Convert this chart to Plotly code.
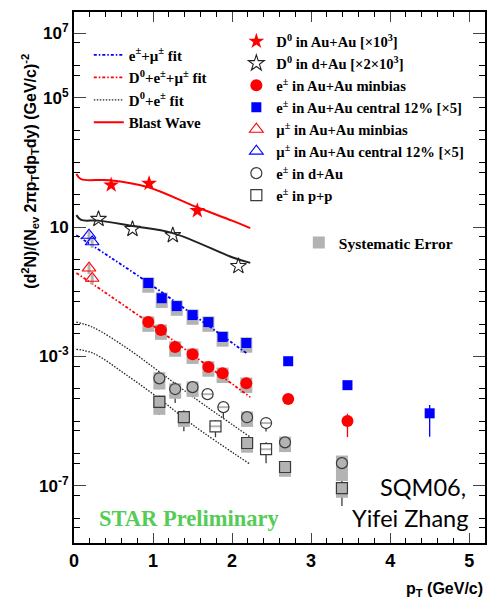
import plotly.graph_objects as go

# ---------------- data ----------------
# D0 in Au+Au (x10^3) and D0 in d+Au (x2x10^3)
d0_auau_pt = [0.47, 0.95, 1.56]
d0_auau_y = [200, 224, 32]
d0_dau_pt = [0.31, 0.74, 1.25, 2.08]
d0_dau_y = [17.8, 8.7, 5.6, 0.62]

# non-photonic electrons, Au+Au minbias
e_mb_pt = [0.94, 1.10, 1.28, 1.50, 1.70, 1.88, 2.18, 2.71, 3.46]
e_mb_y = [0.0115, 0.0065, 0.00195, 0.00117, 4.7e-4, 3.0e-4, 1.48e-4, 4.8e-5, 1.0e-5]
e_mb_stat = [0.1, 0.1, 0.1, 0.1, 0.1, 0.1, 0.1, 0.15, 0.68]
e_mb_sys = [0.5, 0.5, 0.5, 0.5, 0.5, 0.5, 0.5, 0.0, 0.0]

# electrons, Au+Au central 12% (x5)
e_c_pt = [0.94, 1.11, 1.30, 1.50, 1.70, 1.88, 2.18, 2.71, 3.46, 4.50]
e_c_y = [0.186, 0.063, 0.036, 0.019, 0.0115, 0.0040, 0.0026, 7.1e-4, 1.29e-4, 1.74e-5]
e_c_stat = [0.1, 0.1, 0.1, 0.1, 0.1, 0.1, 0.1, 0.15, 0.2, 0.81]
e_c_sys = [0.5, 0.5, 0.5, 0.5, 0.5, 0.5, 0.5, 0.0, 0.0, 0.0]

# muons
mu_mb_pt = [0.19, 0.23]
mu_mb_y = [0.54, 0.26]
mu_c_pt = [0.19, 0.23]
mu_c_y = [5.6, 3.5]
mu_sys = [0.35, 0.35]

# electrons in d+Au
e_dau_pt = [1.08, 1.28, 1.50, 1.69, 1.89, 2.19, 2.43, 2.67, 3.39]
e_dau_y = [2.1e-4, 9.8e-5, 1.12e-4, 6.8e-5, 2.7e-5, 1.32e-5, 8.7e-6, 2.2e-6, 5.0e-7]
e_dau_stat = [0.54, 0.63, 0.2, 0.2, 0.54, 0.2, 0.45, 0.3, 0.3]
e_dau_sys = [0.55, 0.5, 0.5, 0.07, 0.07, 0.5, 0.07, 0.5, 0.72]

# electrons in p+p
e_pp_pt = [1.08, 1.39, 1.79, 2.19, 2.43, 2.67, 3.39]
e_pp_y = [3.9e-5, 1.32e-5, 6.9e-6, 2.1e-6, 1.35e-6, 3.8e-7, 8.5e-8]
e_pp_stat = [0.6, 0.63, 0.54, 0.3, 0.63, 0.48, 0.72]
e_pp_sys = [0.6, 0.5, 0.07, 0.5, 0.07, 0.5, 0.5]

# combined fits
fit_emu_pt = [0.03, 0.5, 1.0, 1.5, 2.2]
fit_emu_y = [5.6, 1.0, 0.15, 0.020, 0.00117]
fit_d0emu_pt = [0.03, 0.5, 1.0, 1.5, 2.23]
fit_d0emu_y = [0.38, 0.063, 0.0089, 0.00112, 5.5e-5]
fit_d0e_pt = [0.03, 0.24, 0.67, 1.09, 1.51, 2.23]
fit_d0e_dau_y = [0.0115, 0.0079, 0.0018, 3.2e-4, 5.5e-5, 3.2e-6]
fit_d0e_pp_y = [1.66e-3, 1.26e-3, 2.6e-4, 4.7e-5, 7.4e-6, 4.6e-7]

# blast wave curves
bw_auau_pt = [0.03, 0.09, 0.45, 0.93, 1.55, 2.0, 2.23]
bw_auau_y = [437, 302, 282, 174, 41.7, 15.8, 9.3]
bw_dau_pt = [0.03, 0.09, 0.31, 0.74, 1.25, 2.0, 2.23]
bw_dau_y = [23.4, 16.6, 15.8, 10.7, 6.5, 1.17, 0.78]

# axis labels
y_tickvals = [1e7, 1e5, 1e1, 1e-3, 1e-7]
y_ticktext = ["10<sup>7</sup>", "10<sup>5</sup>", "10", "10<sup>-3</sup>", "10<sup>-7</sup>"]
x_tickvals = [0, 1, 2, 3, 4, 5]

# ---------------- styling ----------------
RED = "#ff0000"
BLUE = "#0000ff"
SYS_GRAY = "#b3b3b3"
DARK = "#3a3a3a"
SERIF_FAMILY = "Liberation Serif, Times New Roman, serif"
SANS = "Liberation Sans, Arial, sans-serif"
FIT_DASH = "3px,2px,1.5px,2px"

fig = go.Figure()


def sys_band(x, y, frac, width=12):
    """Gray systematic-error band drawn as a thick error bar."""
    return go.Scatter(
        x=x, y=y, mode="markers", showlegend=False, hoverinfo="skip",
        marker=dict(size=1, color="rgba(0,0,0,0)"),
        error_y=dict(type="data", symmetric=True,
                     array=[f * v for f, v in zip(frac, y)],
                     color=SYS_GRAY, thickness=width, width=0),
    )


def stat_bars(x, y, frac, color):
    return dict(type="data", symmetric=True,
                array=[f * v for f, v in zip(frac, y)],
                color=color, thickness=1.3, width=0)


# --- fit curves ---
fig.add_trace(go.Scatter(x=fit_d0e_pt, y=fit_d0e_dau_y, mode="lines", line_shape="spline",
                         line=dict(color="#222222", width=1.3, dash="1.5px,1.5px"),
                         showlegend=False))
fig.add_trace(go.Scatter(x=fit_d0e_pt, y=fit_d0e_pp_y, mode="lines", line_shape="spline",
                         line=dict(color="#222222", width=1.3, dash="1.5px,1.5px"),
                         name="D<sup>0</sup>+e<sup>±</sup> fit", legend="legend", legendrank=3))

# --- systematic bands under coloured points ---
fig.add_trace(sys_band(e_c_pt, e_c_y, e_c_sys))
fig.add_trace(sys_band(e_mb_pt, e_mb_y, e_mb_sys))

fig.add_trace(go.Scatter(x=fit_emu_pt, y=fit_emu_y, mode="lines", line_shape="spline",
                         line=dict(color=BLUE, width=1.8, dash=FIT_DASH),
                         name="e<sup>±</sup>+μ<sup>±</sup> fit", legend="legend", legendrank=1))
fig.add_trace(go.Scatter(x=fit_d0emu_pt, y=fit_d0emu_y, mode="lines", line_shape="spline",
                         line=dict(color=RED, width=1.8, dash=FIT_DASH),
                         name="D<sup>0</sup>+e<sup>±</sup>+μ<sup>±</sup> fit", legend="legend", legendrank=2))
fig.add_trace(go.Scatter(x=bw_auau_pt, y=bw_auau_y, mode="lines", line_shape="spline",
                         line=dict(color=RED, width=2),
                         name="Blast Wave", legend="legend", legendrank=4))
fig.add_trace(go.Scatter(x=bw_dau_pt, y=bw_dau_y, mode="lines", line_shape="spline",
                         line=dict(color="#222222", width=2), showlegend=False))

# --- d+Au and p+p electrons: stat bars, white fill, systematic band, outline ---
for pt, y, st in [(e_dau_pt, e_dau_y, e_dau_stat), (e_pp_pt, e_pp_y, e_pp_stat)]:
    fig.add_trace(go.Scatter(x=pt, y=y, mode="markers", showlegend=False, hoverinfo="skip",
                             marker=dict(size=1, color="rgba(0,0,0,0)"),
                             error_y=stat_bars(pt, y, st, DARK)))
for sym, pt, y in [("circle", e_dau_pt, e_dau_y), ("square", e_pp_pt, e_pp_y)]:
    fig.add_trace(go.Scatter(x=pt, y=y, mode="markers", showlegend=False, hoverinfo="skip",
                             marker=dict(symbol=sym, size=11, color="white", line=dict(width=0))))
fig.add_trace(sys_band(e_dau_pt, e_dau_y, e_dau_sys, 12))
fig.add_trace(sys_band(e_pp_pt, e_pp_y, e_pp_sys, 12))
fig.add_trace(sys_band(mu_mb_pt, mu_mb_y, mu_sys, 3))
fig.add_trace(sys_band(mu_c_pt, mu_c_y, mu_sys, 3))

# --- points with legend entries ---
fig.add_trace(go.Scatter(x=d0_auau_pt, y=d0_auau_y, mode="markers",
                         name="D<sup>0</sup> in Au+Au [×10<sup>3</sup>]",
                         marker=dict(symbol="star", size=12, color=RED, line=dict(width=0)),
                         legend="legend2", legendrank=1))
fig.add_trace(go.Scatter(x=d0_dau_pt, y=d0_dau_y, mode="markers",
                         name="D<sup>0</sup> in d+Au [×2×10<sup>3</sup>]",
                         marker=dict(symbol="star-open", size=12, color="#222222", line=dict(width=1.1)),
                         legend="legend2", legendrank=2))
fig.add_trace(go.Scatter(x=e_mb_pt, y=e_mb_y, mode="markers",
                         name="e<sup>±</sup> in Au+Au minbias",
                         marker=dict(symbol="circle", size=12, color=RED, line=dict(width=0)),
                         error_y=stat_bars(e_mb_pt, e_mb_y, e_mb_stat, RED),
                         legend="legend2", legendrank=3))
fig.add_trace(go.Scatter(x=e_c_pt, y=e_c_y, mode="markers",
                         name="e<sup>±</sup> in Au+Au central 12% [×5]",
                         marker=dict(symbol="square", size=10, color=BLUE, line=dict(width=0)),
                         error_y=stat_bars(e_c_pt, e_c_y, e_c_stat, BLUE),
                         legend="legend2", legendrank=4))
fig.add_trace(go.Scatter(x=mu_mb_pt, y=mu_mb_y, mode="markers",
                         name="μ<sup>±</sup> in Au+Au minbias",
                         marker=dict(symbol="triangle-up-open", size=12, color=RED, line=dict(width=1.1)),
                         legend="legend2", legendrank=5))
fig.add_trace(go.Scatter(x=mu_c_pt, y=mu_c_y, mode="markers",
                         name="μ<sup>±</sup> in Au+Au central 12% [×5]",
                         marker=dict(symbol="triangle-up-open", size=12, color=BLUE, line=dict(width=1.1)),
                         legend="legend2", legendrank=6))
fig.add_trace(go.Scatter(x=e_dau_pt, y=e_dau_y, mode="markers",
                         name="e<sup>±</sup> in d+Au",
                         marker=dict(symbol="circle-open", size=11, color=DARK, line=dict(width=1.2)),
                         legend="legend2", legendrank=7))
fig.add_trace(go.Scatter(x=e_pp_pt, y=e_pp_y, mode="markers",
                         name="e<sup>±</sup> in p+p",
                         marker=dict(symbol="square-open", size=11, color=DARK, line=dict(width=1.2)),
                         legend="legend2", legendrank=8))
fig.add_trace(go.Scatter(x=[None], y=[None], mode="markers", name="Systematic Error",
                         marker=dict(symbol="square", size=12, color=SYS_GRAY),
                         legend="legend3"))


def legend_style(x, y, size):
    return dict(x=x, y=y, xanchor="left", yanchor="top", bgcolor="rgba(0,0,0,0)",
                borderwidth=0, itemwidth=30, tracegroupgap=0,
                font=dict(family=SERIF_FAMILY, size=size, color="black", weight="bold"))


fig.update_layout(
    width=490, height=606,
    margin=dict(l=74, r=3, t=12, b=63),
    plot_bgcolor="white", paper_bgcolor="white",
    showlegend=True,
    legend=legend_style(0.036, 0.950, 15),
    legend2=legend_style(0.395, 0.975, 14.6),
    legend3=legend_style(0.547, 0.597, 15.5),
    xaxis=dict(range=[0, 5.2], tickvals=x_tickvals, ticks="inside", ticklen=10, tickwidth=1.2,
               showline=True, linewidth=2, linecolor="black", mirror="ticks", showgrid=False,
               zeroline=False, tickfont=dict(family=SANS, size=18, color="black", weight="bold"),
               minor=dict(dtick=0.2, ticks="inside", ticklen=5, tickwidth=1, tickcolor="black",
                          showgrid=False)),
    yaxis=dict(type="log", range=[-8.77, 7.65], tickvals=y_tickvals, ticktext=y_ticktext,
               ticks="inside", ticklen=12, tickwidth=1.2,
               showline=True, linewidth=2, linecolor="black", mirror="ticks", showgrid=False,
               zeroline=False, tickfont=dict(family=SANS, size=17, color="black", weight="bold"),
               minor=dict(tickvals=[10.0 ** k for k in range(-8, 8)] + [5 * 10.0 ** k for k in range(-9, 8)],
                          ticks="inside", ticklen=6, tickwidth=1, tickcolor="black", showgrid=False)),
    annotations=[
        dict(text="(d<sup>2</sup>N)/(N<sub>ev</sub> 2πp<sub>T</sub>dp<sub>T</sub>dy) (GeV/c)<sup>-2</sup>",
             xref="paper", yref="paper", x=-0.107, y=0.699, xanchor="center", yanchor="middle",
             textangle=-90, showarrow=False,
             font=dict(family=SANS, size=16, color="black", weight="bold")),
        dict(text="p<sub>T</sub> (GeV/c)", xref="paper", yref="paper", x=1.0, y=-0.087,
             xanchor="right", yanchor="middle", showarrow=False,
             font=dict(family=SANS, size=16, color="black", weight="bold")),
        dict(text="STAR Preliminary", xref="paper", yref="paper", x=0.281, y=0.047,
             xanchor="center", yanchor="middle", showarrow=False,
             font=dict(family=SERIF_FAMILY, size=22.5, color="#55cc55", weight="bold")),
        dict(text="SQM06,", xref="paper", yref="paper", x=0.959, y=0.1055,
             xanchor="right", yanchor="middle", showarrow=False,
             font=dict(family="Lato, sans-serif", size=23.5, color="black")),
        dict(text="Yifei Zhang", xref="paper", yref="paper", x=0.964, y=0.047,
             xanchor="right", yanchor="middle", showarrow=False,
             font=dict(family="Lato, sans-serif", size=23.5, color="black")),
    ],
)

fig.write_html("out.html")
